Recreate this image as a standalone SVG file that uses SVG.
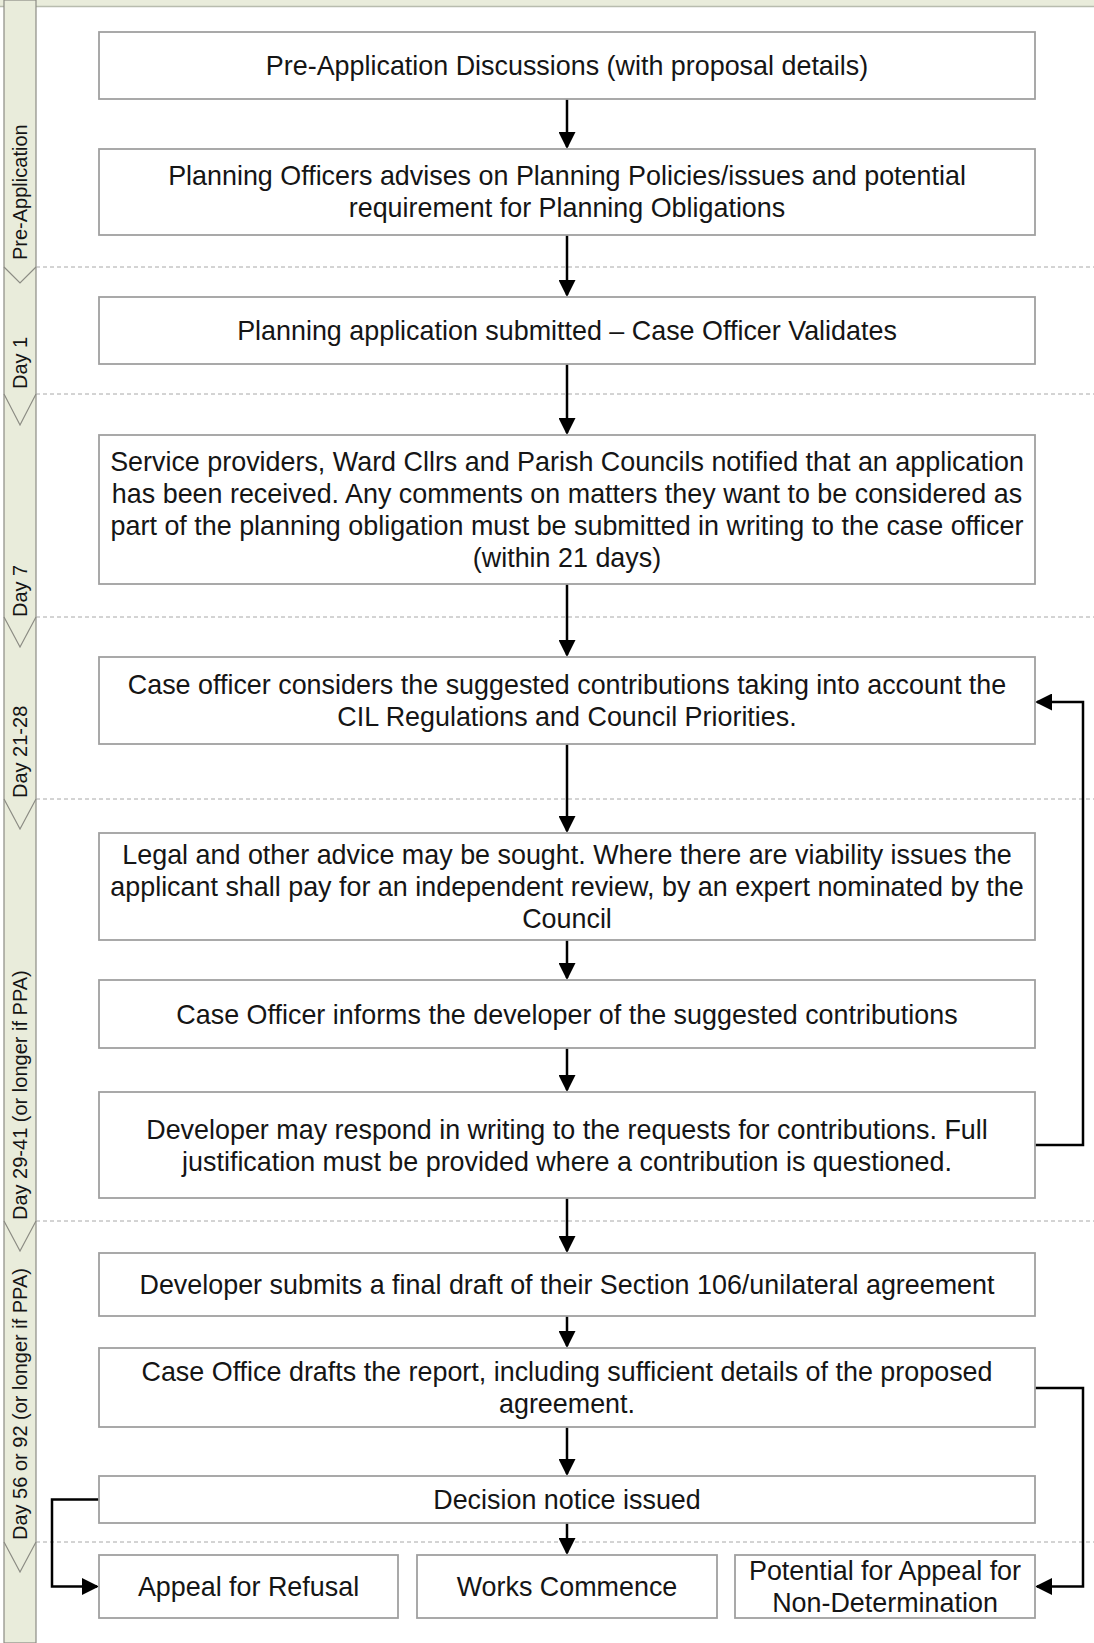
<svg xmlns="http://www.w3.org/2000/svg" width="1094" height="1643" viewBox="0 0 1094 1643">
<style>
.box{fill:#ffffff;stroke:#a0a0a0;stroke-width:1.8}
.t{font-family:"Liberation Sans",Arial,sans-serif;font-size:26.9px;fill:#151515;text-anchor:middle}
.lane{font-family:"Liberation Sans",Arial,sans-serif;font-size:20px;fill:#151515}
.div{stroke:#a8a8a8;stroke-width:1;stroke-dasharray:4 3;fill:none}
.chev{fill:none;stroke:#8c8c84;stroke-width:1.2}
.c{fill:none;stroke:#000;stroke-width:2.5;marker-end:url(#ah)}
</style>
<defs>
<marker id="ah" markerUnits="userSpaceOnUse" markerWidth="17" markerHeight="17" viewBox="0 0 17 17" refX="15" refY="8.5" orient="auto">
<path d="M0,0 L17,8.5 L0,17 z" fill="#000"/>
</marker>
</defs>
<rect x="0" y="0" width="1094" height="1643" fill="#ffffff"/>
<g id="lanes">
<rect x="0" y="0" width="1094" height="6" fill="#e9ecdb"/>
<line x1="0" y1="6.5" x2="1094" y2="6.5" stroke="#b8bcae" stroke-width="1.5"/>
<rect x="4" y="0" width="32" height="1643" fill="#e9ecdb" stroke="#8c8c84" stroke-width="1.2"/>
<line class="div" x1="36" y1="267" x2="1094" y2="267"/>
<line class="div" x1="36" y1="394" x2="1094" y2="394"/>
<line class="div" x1="36" y1="617" x2="1094" y2="617"/>
<line class="div" x1="36" y1="799" x2="1094" y2="799"/>
<line class="div" x1="36" y1="1221" x2="1094" y2="1221"/>
<line class="div" x1="36" y1="1542" x2="1094" y2="1542"/>
<polyline class="chev" points="4,267 20,283 36,267"/>
<polyline class="chev" points="4,394 20,425 36,394"/>
<polyline class="chev" points="4,617 20,647 36,617"/>
<polyline class="chev" points="4,799 20,829 36,799"/>
<polyline class="chev" points="4,1221 20,1251 36,1221"/>
<polyline class="chev" points="4,1542 20,1572 36,1542"/>
<text class="lane" transform="translate(27,260) rotate(-90)">Pre-Application</text>
<text class="lane" transform="translate(27,389) rotate(-90)">Day 1</text>
<text class="lane" transform="translate(27,617) rotate(-90)">Day 7</text>
<text class="lane" transform="translate(27,798) rotate(-90)">Day 21-28</text>
<text class="lane" transform="translate(27,1220) rotate(-90)">Day 29-41 (or longer if PPA)</text>
<text class="lane" transform="translate(27,1540) rotate(-90)">Day 56 or 92 (or longer if PPA)</text>
</g>
<g id="connectors">
<line class="c" x1="567" y1="99" x2="567" y2="147"/>
<line class="c" x1="567" y1="235" x2="567" y2="295"/>
<line class="c" x1="567" y1="364" x2="567" y2="433"/>
<line class="c" x1="567" y1="584" x2="567" y2="655"/>
<line class="c" x1="567" y1="744" x2="567" y2="831"/>
<line class="c" x1="567" y1="940" x2="567" y2="978"/>
<line class="c" x1="567" y1="1048" x2="567" y2="1090"/>
<line class="c" x1="567" y1="1198" x2="567" y2="1251"/>
<line class="c" x1="567" y1="1316" x2="567" y2="1346"/>
<line class="c" x1="567" y1="1427" x2="567" y2="1474"/>
<line class="c" x1="567" y1="1523" x2="567" y2="1553"/>
<path class="c" d="M1035,1145 H1083 V702 H1037"/>
<path class="c" d="M1035,1388 H1083 V1586.5 H1037"/>
<path class="c" d="M99,1499.5 H52 V1586.5 H97"/>
</g>
<g id="n1"><rect class="box" x="99" y="32" width="936" height="67"/>
<text class="t" x="567" y="75">Pre-Application Discussions (with proposal details)</text></g>
<g id="n2"><rect class="box" x="99" y="149" width="936" height="86"/>
<text class="t" x="567" y="185">Planning Officers advises on Planning Policies/issues and potential</text>
<text class="t" x="567" y="217">requirement for Planning Obligations</text></g>
<g id="n3"><rect class="box" x="99" y="297" width="936" height="67"/>
<text class="t" x="567" y="340">Planning application submitted – Case Officer Validates</text></g>
<g id="n4"><rect class="box" x="99" y="435" width="936" height="149"/>
<text class="t" x="567" y="470.5">Service providers, Ward Cllrs and Parish Councils notified that an application</text>
<text class="t" x="567" y="502.5">has been received. Any comments on matters they want to be considered as</text>
<text class="t" x="567" y="534.5">part of the planning obligation must be submitted in writing to the case officer</text>
<text class="t" x="567" y="566.5">(within 21 days)</text></g>
<g id="n5"><rect class="box" x="99" y="657" width="936" height="87"/>
<text class="t" x="567" y="694">Case officer considers the suggested contributions taking into account the</text>
<text class="t" x="567" y="726">CIL Regulations and Council Priorities.</text></g>
<g id="n6"><rect class="box" x="99" y="833" width="936" height="107"/>
<text class="t" x="567" y="864">Legal and other advice may be sought. Where there are viability issues the</text>
<text class="t" x="567" y="896">applicant shall pay for an independent review, by an expert nominated by the</text>
<text class="t" x="567" y="928">Council</text></g>
<g id="n7"><rect class="box" x="99" y="980" width="936" height="68"/>
<text class="t" x="567" y="1023.5">Case Officer informs the developer of the suggested contributions</text></g>
<g id="n8"><rect class="box" x="99" y="1092" width="936" height="106"/>
<text class="t" x="567" y="1138.5">Developer may respond in writing to the requests for contributions. Full</text>
<text class="t" x="567" y="1170.5">justification must be provided where a contribution is questioned.</text></g>
<g id="n9"><rect class="box" x="99" y="1253" width="936" height="63"/>
<text class="t" x="567" y="1294">Developer submits a final draft of their Section 106/unilateral agreement</text></g>
<g id="n10"><rect class="box" x="99" y="1348" width="936" height="79"/>
<text class="t" x="567" y="1381">Case Office drafts the report, including sufficient details of the proposed</text>
<text class="t" x="567" y="1413">agreement.</text></g>
<g id="n11"><rect class="box" x="99" y="1476" width="936" height="47"/>
<text class="t" x="567" y="1509">Decision notice issued</text></g>
<g id="n12"><rect class="box" x="99" y="1555" width="299" height="63"/>
<text class="t" x="248.5" y="1596">Appeal for Refusal</text></g>
<g id="n13"><rect class="box" x="417" y="1555" width="300" height="63"/>
<text class="t" x="567" y="1596">Works Commence</text></g>
<g id="n14"><rect class="box" x="735" y="1555" width="300" height="63"/>
<text class="t" x="885" y="1580">Potential for Appeal for</text>
<text class="t" x="885" y="1612">Non-Determination</text></g>
</svg>
